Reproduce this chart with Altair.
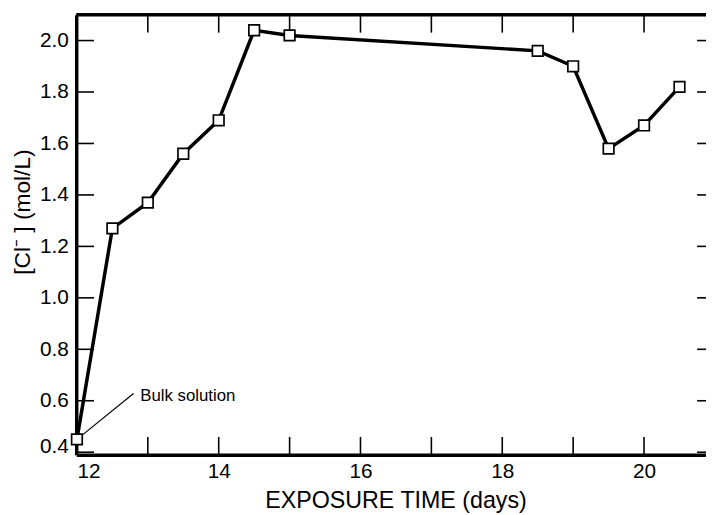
import altair as alt
import pandas as pd

# ---- data ----
days = [12.0, 12.5, 13.0, 13.5, 14.0, 14.5, 15.0, 18.5, 19.0, 19.5, 20.0, 20.5]
chloride = [0.45, 1.27, 1.37, 1.56, 1.69, 2.04, 2.02, 1.96, 1.90, 1.58, 1.67, 1.82]
x_ticks = [12, 13, 14, 15, 16, 17, 18, 19, 20]
x_labels = [12, 14, 16, 18, 20]
y_ticks = [0.4, 0.6, 0.8, 1.0, 1.2, 1.4, 1.6, 1.8, 2.0]
annotation = "Bulk solution"
x_title = "EXPOSURE TIME (days)"
y_title = "[Cl\u207b ] (mol/L)"

W, H = 637, 445
FONT = "Liberation Sans"
TL = 18  # inward tick length

df = pd.DataFrame({"day": days, "cl": chloride})
xt = pd.DataFrame({"day": x_ticks})
yt = pd.DataFrame({"cl": y_ticks})
one = pd.DataFrame({"a": [0]})

xs = alt.Scale(domain=[11.99, 20.874], nice=False, zero=False)
ys = alt.Scale(domain=[0.39, 2.1], nice=False, zero=False)

x_axis = alt.Axis(
    values=x_labels, ticks=False, grid=False, domain=True, domainWidth=3.5,
    domainColor="black", labelFontSize=21, labelPadding=6, labelColor="black",
    labelFont=FONT,
    labelAlign={"condition": {"test": "datum.value == 12", "value": "left"}, "value": "center"},
    title=x_title, titleFontSize=23.5, titleFont=FONT, titleFontWeight="normal",
    titleColor="black", titleX=323, titleY=53, titleBaseline="alphabetic",
    titleAlign="center",
)
y_axis = alt.Axis(
    values=y_ticks, format=".1f", ticks=False, grid=False, domain=True,
    domainWidth=3.5, domainColor="black", labelFontSize=21, labelPadding=8,
    labelColor="black", labelFont=FONT,
    labelBaseline={"condition": {"test": "datum.value < 0.5", "value": "alphabetic"}, "value": "middle"},
    title=y_title, titleFontSize=23, titleFont=FONT, titleFontWeight="normal",
    titleColor="black", titleX=-47, titleY=199, titleBaseline="alphabetic",
    titleAlign="center",
)

X = alt.X("day:Q", scale=xs, axis=x_axis)
Y = alt.Y("cl:Q", scale=ys, axis=y_axis)

line = alt.Chart(df).mark_line(color="black", strokeWidth=3.5).encode(x=X, y=Y)

points = alt.Chart(df).mark_point(
    shape="square", filled=True, fill="white", stroke="black",
    strokeWidth=1.7, size=115, opacity=1,
).encode(x=X, y=Y)

bottom_ticks = alt.Chart(xt).mark_rule(color="black", strokeWidth=1.6).encode(
    x=X, y=alt.value(H), y2=alt.value(H - TL)
)
top_ticks = alt.Chart(xt).mark_rule(color="black", strokeWidth=1.6).encode(
    x=X, y=alt.value(0), y2=alt.value(TL)
)
left_ticks = alt.Chart(yt).mark_rule(color="black", strokeWidth=1.6).encode(
    y=Y, x=alt.value(0), x2=alt.value(TL)
)
right_ticks = alt.Chart(yt).mark_rule(color="black", strokeWidth=1.6).encode(
    y=Y, x=alt.value(W - 9), x2=alt.value(W)
)
top_border = alt.Chart(one).mark_rule(color="black", strokeWidth=3.5).encode(
    x=alt.value(0), x2=alt.value(W), y=alt.value(0)
)

first = df.iloc[[0]]
leader = alt.Chart(first).mark_rule(color="black", strokeWidth=1.2).encode(
    x=X, y=Y, x2=alt.value(58), y2=alt.value(383),
)
label = alt.Chart(first).mark_text(
    align="left", baseline="alphabetic", dx=64, dy=-39, fontSize=17,
    font=FONT, color="black",
).encode(x=X, y=Y, text=alt.value(annotation))

chart = alt.layer(
    line, top_border, bottom_ticks, top_ticks, left_ticks, right_ticks,
    leader, points, label,
).properties(
    width=W, height=H,
    autosize=alt.AutoSizeParams(type="none"),
    padding={"left": 69, "top": 4, "right": 0, "bottom": 58},
).configure(font=FONT).configure_view(stroke=None)

chart.save("out.html", embed_options={"renderer": "svg", "actions": False})
